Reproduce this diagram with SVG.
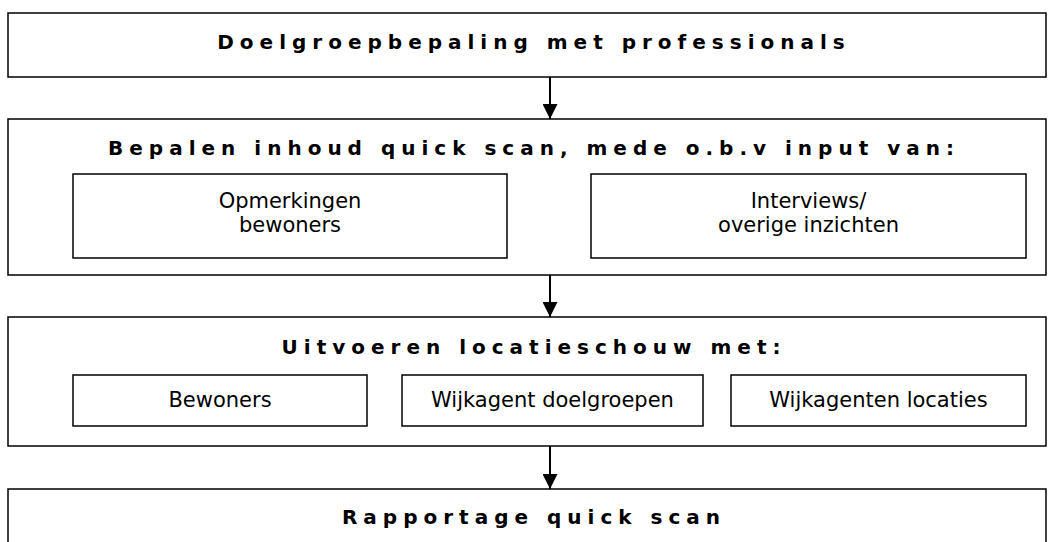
<svg xmlns="http://www.w3.org/2000/svg" width="1054" height="542" viewBox="0 0 1054 542">
  <style>
    .box { fill: #ffffff; stroke: #000000; stroke-width: 1.5; }
    .title { font-family: "DejaVu Sans", Verdana, sans-serif; font-weight: bold; font-size: 20px; letter-spacing: 6px; fill: #000000; text-anchor: middle; }
    .label { font-family: "DejaVu Sans", Verdana, sans-serif; font-size: 21px; fill: #000000; text-anchor: middle; }
    .conn { stroke: #000000; stroke-width: 2; fill: none; }
  </style>
  <defs>
    <marker id="arrow" markerUnits="userSpaceOnUse" markerWidth="15" markerHeight="15" refX="15" refY="7.5" orient="auto">
      <path d="M0,0 L15,7.5 L0,15 z" fill="#000000"/>
    </marker>
  </defs>
  <rect width="1054" height="542" fill="#ffffff"/>

  <g id="node-doelgroep">
    <rect class="box" x="8" y="13" width="1038" height="64"/>
    <text class="title" x="534" y="49">Doelgroepbepaling met professionals</text>
  </g>

  <g id="node-bepalen">
    <rect class="box" x="8" y="119" width="1038" height="156"/>
    <text class="title" x="534" y="155">Bepalen inhoud quick scan, mede o.b.v input van:</text>
  </g>
  <g id="node-opmerkingen">
    <rect class="box" x="73" y="174" width="434" height="84"/>
    <text class="label" x="290" y="208">Opmerkingen</text>
    <text class="label" x="290" y="232">bewoners</text>
  </g>
  <g id="node-interviews">
    <rect class="box" x="591" y="174" width="435" height="84"/>
    <text class="label" x="808.5" y="208">Interviews/</text>
    <text class="label" x="808.5" y="232">overige inzichten</text>
  </g>

  <g id="node-uitvoeren">
    <rect class="box" x="8" y="317" width="1038" height="129"/>
    <text class="title" x="534" y="354">Uitvoeren locatieschouw met:</text>
  </g>
  <g id="node-bewoners">
    <rect class="box" x="73" y="375" width="294" height="51"/>
    <text class="label" x="220" y="407">Bewoners</text>
  </g>
  <g id="node-wijkagent-doelgroepen">
    <rect class="box" x="402" y="375" width="301" height="51"/>
    <text class="label" x="552.5" y="407">Wijkagent doelgroepen</text>
  </g>
  <g id="node-wijkagenten-locaties">
    <rect class="box" x="731" y="375" width="295" height="51"/>
    <text class="label" x="878.5" y="407">Wijkagenten locaties</text>
  </g>

  <g id="node-rapportage">
    <rect class="box" x="8" y="489" width="1038" height="70"/>
    <text class="title" x="534" y="524">Rapportage quick scan</text>
  </g>

  <g id="connectors">
    <line class="conn" x1="550" y1="77" x2="550" y2="119" marker-end="url(#arrow)"/>
    <line class="conn" x1="550" y1="275" x2="550" y2="317" marker-end="url(#arrow)"/>
    <line class="conn" x1="550" y1="446" x2="550" y2="489" marker-end="url(#arrow)"/>
  </g>
</svg>
